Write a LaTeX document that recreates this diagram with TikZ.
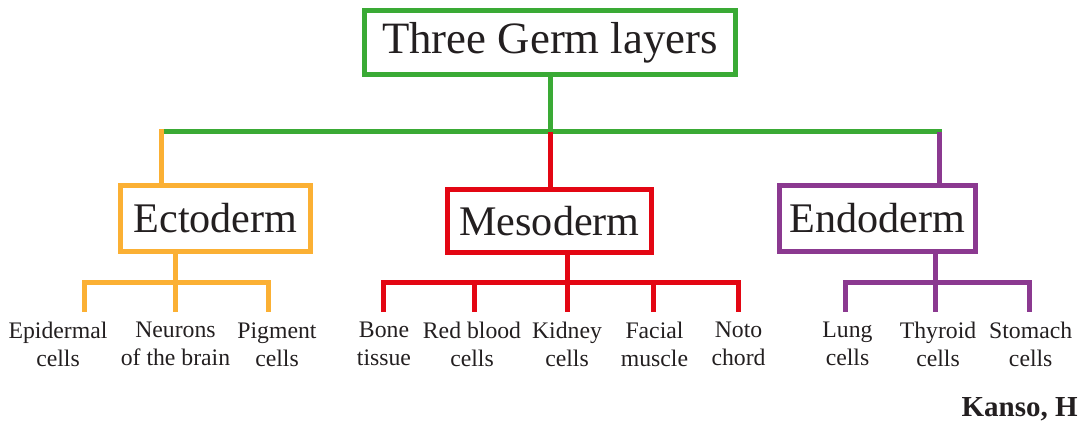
\documentclass[tikz,border=0pt]{standalone}
\usepackage{fontspec}
\setmainfont{Liberation Serif}
\usepackage{tikz}
\usetikzlibrary{positioning}
\definecolor{germgreen}{RGB}{58, 170, 53}
\definecolor{ectoorange}{RGB}{251, 176, 52}
\definecolor{mesored}{RGB}{227, 6, 19}
\definecolor{endopurple}{RGB}{139, 57, 144}
\definecolor{textdark}{RGB}{35, 31, 32}
\tikzset{
  layerbox/.style={
    rectangle, draw, line width=0.1cm, fill=white,
    inner sep=0pt, text=textdark,
    minimum height=1.31cm,
    font=\fontsize{24}{28}\selectfont
  },
  germbox/.style={layerbox, draw=germgreen,  minimum width=7.44cm, minimum height=1.27cm,
                  font=\fontsize{25.5}{30}\selectfont},
  ectobox/.style={layerbox, draw=ectoorange, minimum width=3.80cm},
  mesobox/.style={layerbox, draw=mesored,    minimum width=4.08cm, minimum height=1.27cm},
  endobox/.style={layerbox, draw=endopurple, minimum width=3.92cm},
  celltext/.style={anchor=north, inner sep=0pt, align=center, text=textdark,
                   font=\fontsize{13.5}{16}\selectfont},
  credit/.style={anchor=base east, inner sep=0pt, text=textdark,
                 font=\fontsize{16.5}{20}\selectfont\bfseries},
  branch/.style={line width=0.1cm},
  germline/.style={branch, draw=germgreen},
  ectoline/.style={branch, draw=ectoorange},
  mesoline/.style={branch, draw=mesored},
  endoline/.style={branch, draw=endopurple},
}

\begin{document}
\begin{tikzpicture}[x=0.02cm, y=-0.02cm]
  \useasboundingbox (0,0) rectangle (1086,423);

  % Nodes
  \node[germbox] (germ) at (550,42.7)    {Three Germ layers};
  \node[ectobox] (ecto) at (215.5,218.5) {Ectoderm};
  \node[mesobox] (meso) at (549.5,220.8) {Mesoderm};
  \node[endobox] (endo) at (877.5,218.5) {Endoderm};

  % Cell types (name / leg / text centre / text)
  \foreach \name/\leg/\x/\txt in {
      epi/84/58/{Epidermal\\cells}, neu/175/175.5/{Neurons\\of the brain}, pig/268/277/{Pigment\\cells},
      bone/383/384/{Bone\\tissue}, rbc/474/472/{Red blood\\cells}, kid/567/567/{Kidney\\cells},
      fac/653/654.5/{Facial\\muscle}, noto/738/738.5/{Noto\\chord},
      lung/845/847.5/{Lung\\cells}, thy/935.5/938/{Thyroid\\cells}, sto/1029.6/1030.7/{Stomach\\cells}}{
    \node[celltext] (\name) at (\x,322) {\txt};
    \coordinate (\name-in) at (\leg,312);
  }

  \node[credit] (kanso) at (1078,416) {Kanso, H};

  % Branch points
  \coordinate (ecto-in)    at (161,131.7);
  \coordinate (meso-in)    at (550,131.7);
  \coordinate (endo-in)    at (939,131.7);
  \coordinate (ecto-split) at (175,282);
  \coordinate (meso-split) at (567,282);
  \coordinate (endo-split) at (935.5,282);

  % Top level
  \draw[germline] (germ.south) -- (meso-in);
  \draw[germline, line cap=rect] (ecto-in) -- (endo-in);
  \draw[ectoline, line cap=rect] (ecto-in) -- (ecto-in |- ecto.north);
  \draw[mesoline] (meso-in) -- (meso-in |- meso.north);
  \draw[endoline] (endo-in) -- (endo-in |- endo.north);

  % Cell branches
  \foreach \c in {epi, neu, pig}{
    \draw[ectoline] (ecto.south -| ecto-split) -- (ecto-split) -| (\c-in);
  }
  \foreach \c in {bone, rbc, kid, fac, noto}{
    \draw[mesoline] (meso.south -| meso-split) -- (meso-split) -| (\c-in);
  }
  \foreach \c in {lung, thy, sto}{
    \draw[endoline] (endo.south -| endo-split) -- (endo-split) -| (\c-in);
  }

\end{tikzpicture}
\end{document}
